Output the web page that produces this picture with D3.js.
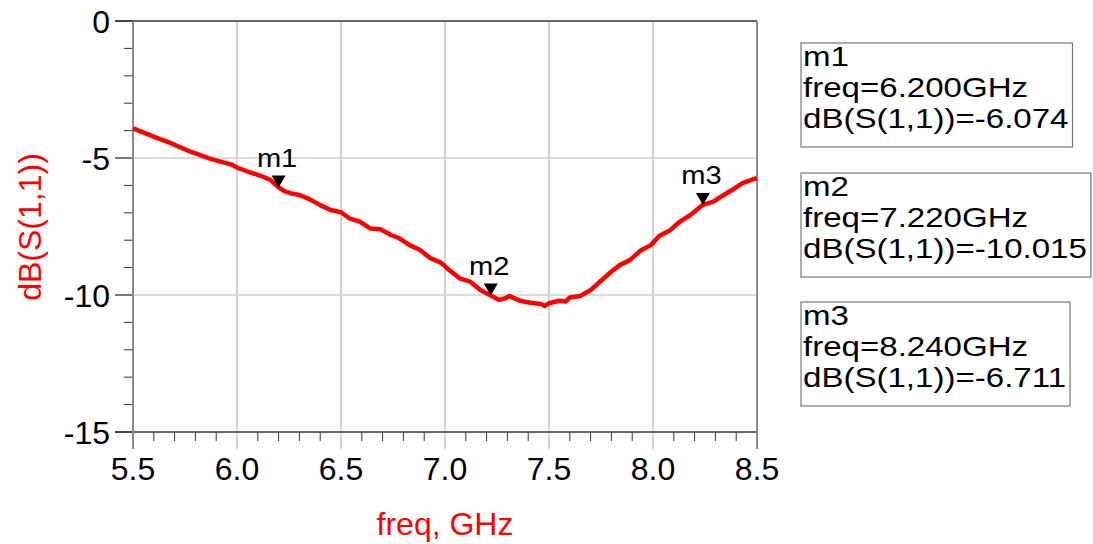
<!DOCTYPE html>
<html><head><meta charset="utf-8">
<script src="https://cdn.jsdelivr.net/npm/d3@7"></script>
<style>html,body{margin:0;padding:0;background:#fff;}svg{display:block;}</style>
</head><body><svg id="c" width="1093" height="544"></svg>
<script>
const freq = [5.50,5.56,5.63,5.68,5.73,5.78,5.82,5.87,5.92,5.97,6.01,6.06,6.11,6.16,6.20,6.23,6.26,6.30,6.35,6.40,6.45,6.50,6.54,6.59,6.64,6.69,6.74,6.78,6.83,6.88,6.93,6.98,7.02,7.07,7.12,7.17,7.22,7.26,7.29,7.31,7.36,7.41,7.46,7.48,7.50,7.55,7.58,7.60,7.65,7.70,7.75,7.79,7.84,7.89,7.94,7.99,8.03,8.08,8.13,8.18,8.24,8.29,8.34,8.38,8.43,8.48,8.50];
const s11 = [-3.92,-4.10,-4.31,-4.45,-4.62,-4.78,-4.89,-5.02,-5.13,-5.23,-5.38,-5.52,-5.64,-5.80,-6.07,-6.22,-6.29,-6.35,-6.51,-6.72,-6.90,-6.98,-7.20,-7.32,-7.57,-7.60,-7.81,-7.93,-8.18,-8.36,-8.66,-8.82,-9.09,-9.39,-9.51,-9.82,-10.02,-10.18,-10.12,-10.04,-10.21,-10.28,-10.33,-10.40,-10.30,-10.21,-10.24,-10.09,-10.04,-9.82,-9.48,-9.21,-8.91,-8.72,-8.38,-8.18,-7.85,-7.65,-7.32,-7.08,-6.71,-6.59,-6.35,-6.17,-5.92,-5.78,-5.74];
const xTicks = [5.5,6.0,6.5,7.0,7.5,8.0,8.5];
const yTicks = [0,-5,-10,-15];
const markerNames = ["m1","m2","m3"];
const markerFreq = [6.200,7.220,8.240];
const markerVal = [-6.074,-10.015,-6.711];
const xLabel = "freq, GHz";
const yLabel = "dB(S(1,1))";

const FONT = "'Liberation Sans', Arial, sans-serif";
const svg = d3.select("#c");
const L = 133, R = 757, T = 21, B = 432;
const x = d3.scaleLinear().domain([5.5, 8.5]).range([L, R]);
const y = d3.scaleLinear().domain([-15, 0]).range([B, T]);

// grid
const g = svg.append("g");
g.selectAll(".vg").data(xTicks.slice(1, -1)).enter().append("line")
  .attr("x1", d => x(d)).attr("x2", d => x(d)).attr("y1", T).attr("y2", B + 17)
  .attr("stroke", "#c4c4c4").attr("stroke-width", 1.5);
g.selectAll(".hg").data(yTicks.slice(1, -1)).enter().append("line")
  .attr("x1", L).attr("x2", R).attr("y1", d => y(d)).attr("y2", d => y(d))
  .attr("stroke", "#d0d0d0").attr("stroke-width", 1.5);

// minor ticks
const xMinor = d3.range(55, 86).map(v => v / 10).filter(v => Math.abs(v * 2 - Math.round(v * 2)) > 1e-6);
g.selectAll(".xm").data(xMinor).enter().append("line")
  .attr("x1", d => x(d)).attr("x2", d => x(d)).attr("y1", B).attr("y2", B + 9)
  .attr("stroke", "#333").attr("stroke-width", 1);
const yMinor = d3.range(-15, 1).filter(v => v % 5 !== 0);
g.selectAll(".ym").data(yMinor).enter().append("line")
  .attr("x1", L - 9).attr("x2", L).attr("y1", d => y(d)).attr("y2", d => y(d))
  .attr("stroke", "#333").attr("stroke-width", 1);

// major y ticks
g.selectAll(".yM").data(yTicks).enter().append("line")
  .attr("x1", L - 18).attr("x2", L).attr("y1", d => y(d)).attr("y2", d => y(d))
  .attr("stroke", "#222").attr("stroke-width", 1.2);

// top & bottom lines
g.append("line").attr("x1", L - 18).attr("x2", R).attr("y1", T).attr("y2", T).attr("stroke", "#333").attr("stroke-width", 1.5);
g.append("line").attr("x1", L - 18).attr("x2", R).attr("y1", B).attr("y2", B).attr("stroke", "#333").attr("stroke-width", 1.5);
// left & right borders
g.append("line").attr("x1", L).attr("x2", L).attr("y1", T).attr("y2", B + 17).attr("stroke", "#8a8a8a").attr("stroke-width", 2);
g.append("line").attr("x1", R).attr("x2", R).attr("y1", T).attr("y2", B + 17).attr("stroke", "#8a8a8a").attr("stroke-width", 2);

// tick labels
g.selectAll(".xl").data(xTicks).enter().append("text")
  .attr("x", d => x(d)).attr("y", 480).attr("text-anchor", "middle")
  .attr("font-family", FONT).attr("font-size", 32).attr("fill", "#000")
  .text(d => d.toFixed(1));
g.selectAll(".yl").data(yTicks).enter().append("text")
  .attr("x", 110).attr("y", d => y(d) + 11.5).attr("text-anchor", "end")
  .attr("font-family", FONT).attr("font-size", 32).attr("fill", "#000")
  .text(d => d);

// axis titles
svg.append("text").attr("x", 445).attr("y", 535).attr("text-anchor", "middle")
  .attr("font-family", FONT).attr("font-size", 32).attr("fill", "#ff0000").text(xLabel);
svg.append("text").attr("transform", "translate(41,227) rotate(-90)").attr("text-anchor", "middle")
  .attr("font-family", FONT).attr("font-size", 32).attr("fill", "#ff0000").text(yLabel);

// curve
const data = freq.map((f, i) => ({ f, v: s11[i] }));
svg.append("path").datum(data)
  .attr("d", d3.line().x(d => x(d.f)).y(d => y(d.v)))
  .attr("fill", "none").attr("stroke", "#ff0000").attr("stroke-width", 4.5)
  .attr("stroke-linejoin", "round");

// markers
const mk = markerNames.map((n, i) => ({ n, f: markerFreq[i], v: markerVal[i] }));
const mg = svg.selectAll(".mk").data(mk).enter().append("g")
  .attr("transform", d => `translate(${x(d.f)},${y(d.v)})`);
mg.append("path").attr("d", "M0,0 L-7,-12 L7,-12 Z").attr("fill", "#000");
mg.append("text").attr("transform", "translate(-1.5,-20.5) scale(1.12,1)").attr("text-anchor", "middle")
  .attr("font-family", FONT).attr("font-size", 26).attr("fill", "#000").text(d => d.n);

// marker readouts
const boxTops = [43, 173, 302];
const SX = 1.16;
mk.forEach((d, i) => {
  const bg = svg.append("g").attr("transform", `translate(801,${boxTops[i]})`);
  const rect = bg.append("rect").attr("x", 0).attr("y", 0).attr("height", 104)
    .attr("fill", "#fff").attr("stroke", "#777").attr("stroke-width", 1.2);
  const lines = [d.n, "freq=" + d.f.toFixed(3) + "GHz", "dB(S(1,1))=" + d.v.toFixed(3)];
  const t = bg.append("text").attr("transform", `scale(${SX},1)`)
    .attr("font-family", FONT).attr("font-size", 28.5).attr("fill", "#000");
  lines.forEach((s, j) => t.append("tspan").attr("x", 2 / SX).attr("y", 23 + j * 31).text(s));
  const w = t.node().getBBox().width * SX;
  rect.attr("width", Math.min(w + 6, 1092 - 801));
});
</script></body></html>
